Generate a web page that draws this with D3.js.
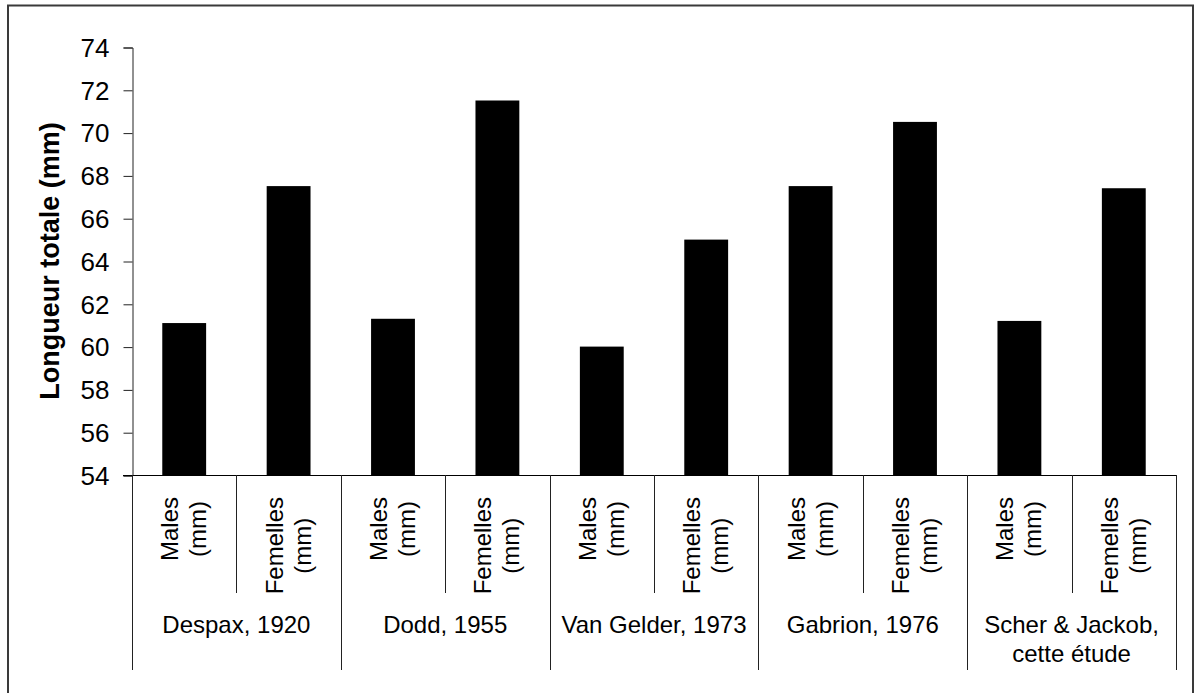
<!DOCTYPE html>
<html>
<head>
<meta charset="utf-8">
<script src="https://cdn.jsdelivr.net/npm/d3@7"></script>
<style>
  html, body { margin: 0; padding: 0; background: #fff; }
  svg { display: block; font-family: "Liberation Sans", Arial, sans-serif; }
</style>
</head>
<body>
<svg id="chart" width="1195" height="693"></svg>
<script>
// ---- data ----
const groupLabels = [["Despax, 1920"], ["Dodd, 1955"], ["Van Gelder, 1973"], ["Gabrion, 1976"], ["Scher & Jackob,", "cette étude"]];
const sexLabels = [["Males", "(mm)"], ["Femelles", "(mm)"]];
const malesValues = [61.1, 61.3, 60.0, 67.5, 61.2];
const femalesValues = [67.5, 71.5, 65.0, 70.5, 67.4];
const yTicks = [54, 56, 58, 60, 62, 64, 66, 68, 70, 72, 74];
const yTitle = "Longueur totale (mm)";

(function () {
// flattened categories
const cats = [];
groupLabels.forEach((g, gi) => {
  cats.push({ id: gi * 2, group: gi, sex: 0, value: malesValues[gi] });
  cats.push({ id: gi * 2 + 1, group: gi, sex: 1, value: femalesValues[gi] });
});

const svg = d3.select("#chart");

// outer border
svg.append("rect")
  .attr("x", 8).attr("y", 5.5).attr("width", 1185).attr("height", 700)
  .attr("fill", "none").attr("stroke", "#3a3a3a").attr("stroke-width", 2);

const pLeft = 132, pRight = 1176, pTop = 47, pBottom = 475;

const x = d3.scaleBand().domain(cats.map(d => d.id)).range([pLeft, pRight])
  .paddingInner(0.58).paddingOuter(0.29);
const y = d3.scaleLinear().domain([54, 74]).range([pBottom, pTop]);
const step = x.step();

// bars
svg.append("g").selectAll("rect").data(cats).join("rect")
  .attr("x", d => x(d.id))
  .attr("y", d => y(d.value))
  .attr("width", x.bandwidth())
  .attr("height", d => y(54) - y(d.value))
  .attr("fill", "#000");

// y axis
const yAxis = d3.axisLeft(y).tickValues(yTicks).tickSize(9).tickPadding(14).tickFormat(d3.format("d"));
const yg = svg.append("g").attr("transform", `translate(${pLeft + 0.5},0.5)`).call(yAxis);
yg.select(".domain").attr("stroke", "#222");
yg.selectAll(".tick line").attr("stroke", "#222");
yg.selectAll(".tick text").attr("font-size", 26).attr("fill", "#000")
  .attr("font-family", "'Liberation Sans', Arial, sans-serif").attr("dy", "0.34em");

// x axis baseline
svg.append("line")
  .attr("x1", pLeft - 9).attr("x2", pRight)
  .attr("y1", pBottom + 0.5).attr("y2", pBottom + 0.5)
  .attr("stroke", "#000");

// separators
const sepG = svg.append("g").attr("stroke", "#222");
for (let k = 0; k <= cats.length; k++) {
  const xx = Math.round(pLeft + step * k) + 0.5;
  const isGroup = k % 2 === 0;
  sepG.append("line")
    .attr("x1", xx).attr("x2", xx)
    .attr("y1", pBottom).attr("y2", isGroup ? 670 : 593);
}

// sex labels (rotated, centered lines, top-aligned)
const sexG = svg.append("g");
cats.forEach(d => {
  const cx = x(d.id) + x.bandwidth() / 2;
  const lines = sexLabels[d.sex];
  const t = sexG.append("text")
    .attr("font-size", 24).attr("fill", "#000").attr("text-anchor", "middle");
  lines.forEach((ln, i) => {
    t.append("tspan").attr("x", 0).attr("y", (i - (lines.length - 1) / 2) * 28 + 8).text(ln);
  });
  let maxW = 0;
  t.selectAll("tspan").each(function () { maxW = Math.max(maxW, this.getComputedTextLength()); });
  t.attr("transform", `translate(${cx},${497 + maxW / 2}) rotate(-90)`);
});

// group labels
const grpG = svg.append("g");
groupLabels.forEach((lines, gi) => {
  const cx = pLeft + step * (gi * 2 + 1);
  const t = grpG.append("text").attr("font-size", 24).attr("fill", "#000").attr("text-anchor", "middle");
  lines.forEach((ln, i) => {
    t.append("tspan").attr("x", cx).attr("y", 633 + i * 29).text(ln);
  });
});

// y title
svg.append("text")
  .attr("transform", `translate(59,${(pTop + pBottom) / 2}) rotate(-90)`)
  .attr("text-anchor", "middle")
  .attr("font-size", 27).attr("font-weight", "bold").attr("fill", "#000")
  .text(yTitle);
})();
</script>
</body>
</html>
